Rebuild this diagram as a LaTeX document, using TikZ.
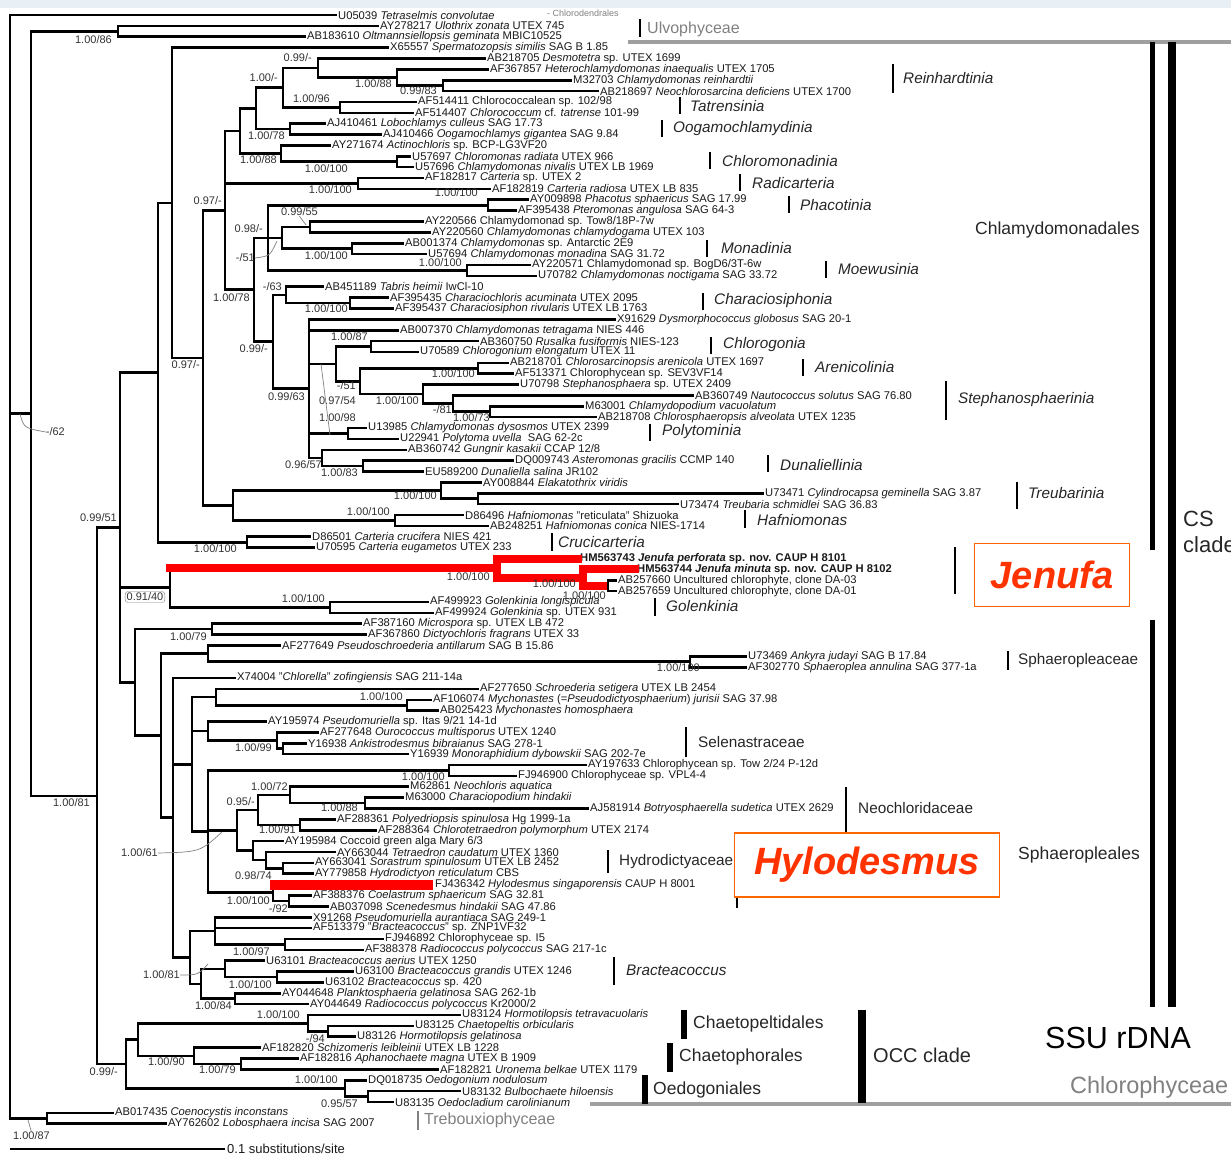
\documentclass[tikz,border=0pt]{standalone}
\usepackage{fontspec}
\setmainfont{Liberation Sans}
\usetikzlibrary{positioning}
\definecolor{cladegray}{RGB}{128,128,128}
\definecolor{jenred}{RGB}{255,0,0}
\definecolor{boxorange}{RGB}{255,102,0}
\definecolor{tagred}{RGB}{255,51,0}
\definecolor{suppgray}{RGB}{50,50,50}
\definecolor{topband}{RGB}{232,240,245}

% row -> y (px)
\newcommand\rw[1]{15+10.87*(#1)}
% tip: name, branch start x, row, label x, text
\newcommand\leaf[5]{\node[taxon] (#1) at ({#4-2},{\rw{#3}}) {#5};
  \draw[br] (#2,{\rw{#3}}) -- (#1.west);}
\newcommand\vbr[3]{\draw[br] (#1,{\rw{#2}}) -- (#1,{\rw{#3}});}
\newcommand\hbr[3]{\draw[br] (#1,{\rw{#3}}) -- (#2,{\rw{#3}});}
\newcounter{bsn}
\newcommand\bsv[3]{\stepcounter{bsn}\node[supp] (bs\thebsn) at (#1,#2) {#3};}

\begin{document}
\begin{tikzpicture}[x=1pt, y=-1pt,
  br/.style={line width=2.6pt, line cap=rect},
  redbr/.style={line width=8pt, draw=jenred, line cap=rect},
  taxon/.style={anchor=west, inner xsep=2pt, inner ysep=0pt, text=black!90, font=\fontsize{11.2}{12}\selectfont},
  supp/.style={anchor=east, inner sep=0pt, text=suppgray, font=\fontsize{11}{12}\selectfont},
  lead/.style={draw=gray, line width=0.7pt},
  bar/.style={line width=2.5pt},
  fambar/.style={line width=6pt},
  subclade/.style={anchor=west, inner sep=0pt, text=black!85, font=\fontsize{15.3}{16}\selectfont\itshape},
  family/.style={anchor=west, inner sep=0pt, text=black!85, font=\fontsize{15.3}{16}\selectfont},
  order/.style={anchor=west, inner sep=0pt, text=black!85, font=\fontsize{17.5}{18}\selectfont},
  grayclass/.style={anchor=west, inner sep=0pt, text=cladegray, font=\fontsize{16}{17}\selectfont},
  sep/.style={line width=4pt, draw=gray!75},
  tag/.style={draw=boxorange, line width=1.5pt, fill=white, inner sep=0pt, text=tagred, font=\fontsize{38}{40}\selectfont\bfseries\itshape},
]
\useasboundingbox (0,0) rectangle (1231,1156);
\fill[topband] (0,0) rectangle (1231,8);

% root and outgroups
\vbr{10}{0}{101.5}
\leaf{t0}{10}{0}{338}{U05039 \textit{Tetraselmis convolutae}}
\hbr{10}{31}{36.66}
\vbr{31}{1.5}{71.83}
\hbr{31}{118}{1.5}
\vbr{118}{1}{2}
\leaf{t1}{118}{1}{380}{AY278217 \textit{Ulothrix zonata} UTEX 745}
\leaf{t2}{118}{2}{307}{AB183610 \textit{Oltmannsiellopsis geminata} MBIC10525}

% Chlorophyceae
\hbr{31}{97}{71.83}
\vbr{97}{47.15}{96.5}
\hbr{97}{120}{47.15}
\vbr{120}{32.89}{61.4}

% Chlamydomonadales
\hbr{120}{158}{32.89}
\vbr{158}{17.28}{48.5}
\hbr{158}{172}{17.28}
\vbr{172}{3}{31.55}
\leaf{t3}{172}{3}{390}{X65557 \textit{Spermatozopsis similis} SAG B 1.85}
\hbr{172}{203}{31.55}
\vbr{203}{17.98}{45.125}
\hbr{203}{225}{17.98}
\vbr{225}{10.67}{25.28}
\hbr{225}{240}{10.67}
\vbr{240}{8.59}{12.75}
\hbr{240}{256}{8.59}
\vbr{256}{6.69}{10.5}
\hbr{256}{283}{6.69}
\vbr{283}{4.875}{8.5}
\hbr{283}{318}{4.875}
\vbr{318}{4}{5.75}
\leaf{t4}{318}{4}{487}{AB218705 \textit{Desmotetra} sp. UTEX 1699}
\hbr{318}{397}{5.75}
\vbr{397}{5}{6.5}
\leaf{t5}{397}{5}{490}{AF367857 \textit{Heterochlamydomonas inaequalis} UTEX 1705}
\hbr{397}{443}{6.5}
\vbr{443}{6}{7}
\leaf{t6}{443}{6}{573}{M32703 \textit{Chlamydomonas reinhardtii}}
\leaf{t7}{443}{7}{600}{AB218697 \textit{Neochlorosarcina deficiens} UTEX 1700}
\hbr{283}{340}{8.5}
\vbr{340}{8}{9}
\leaf{t8}{340}{8}{418}{AF514411 Chlorococcalean sp. 102/98}
\leaf{t9}{340}{9}{415}{AF514407 \textit{Chlorococcum} cf. \textit{tatrense} 101-99}
\hbr{256}{290}{10.5}
\vbr{290}{10}{11}
\leaf{t10}{290}{10}{327}{AJ410461 \textit{Lobochlamys culleus} SAG 17.73}
\leaf{t11}{290}{11}{383}{AJ410466 \textit{Oogamochlamys gigantea} SAG 9.84}
\hbr{240}{281}{12.75}
\vbr{281}{12}{13.5}
\leaf{t12}{281}{12}{332}{AY271674 \textit{Actinochloris} sp. BCP-LG3VF20}
\hbr{281}{397}{13.5}
\vbr{397}{13}{14}
\leaf{t13}{397}{13}{412}{U57697 \textit{Chloromonas radiata} UTEX 966}
\leaf{t14}{397}{14}{415}{U57696 \textit{Chlamydomonas nivalis} UTEX LB 1969}
\hbr{225}{358}{15.5}
\vbr{358}{15}{16}
\leaf{t15}{358}{15}{425}{AF182817 \textit{Carteria} sp. UTEX 2}
\leaf{t16}{358}{16}{492}{AF182819 \textit{Carteria radiosa} UTEX LB 835}
\hbr{225}{254}{25.28}
\vbr{254}{20.5}{30.06}
\hbr{254}{268}{20.5}
\vbr{268}{17.5}{23.5}
\hbr{268}{488}{17.5}
\vbr{488}{17}{18}
\leaf{t17}{488}{17}{530}{AY009898 \textit{Phacotus sphaericus} SAG 17.99}
\leaf{t18}{488}{18}{518}{AF395438 \textit{Pteromonas angulosa} SAG 64-3}
\hbr{268}{282}{20.5}
\vbr{282}{19.5}{21.5}
\hbr{282}{310}{19.5}
\vbr{310}{19}{20}
\leaf{t19}{310}{19}{425}{AY220566 Chlamydomonad sp. Tow8/18P-7w}
\leaf{t20}{310}{20}{432}{AY220560 \textit{Chlamydomonas chlamydogama} UTEX 103}
\hbr{282}{352}{21.5}
\vbr{352}{21}{22}
\leaf{t21}{352}{21}{405}{AB001374 \textit{Chlamydomonas} sp. Antarctic 2E9}
\leaf{t22}{352}{22}{428}{U57694 \textit{Chlamydomonas monadina} SAG 31.72}
\hbr{268}{467}{23.5}
\vbr{467}{23}{24}
\leaf{t23}{467}{23}{532}{AY220571 Chlamydomonad sp. BogD6/3T-6w}
\leaf{t24}{467}{24}{538}{U70782 \textit{Chlamydomonas noctigama} SAG 33.72}
\hbr{254}{273}{30.06}
\vbr{273}{25.75}{34.375}
\hbr{273}{286}{25.75}
\vbr{286}{25}{26.5}
\leaf{t25}{286}{25}{325}{AB451189 \textit{Tabris heimii} IwCl-10}
\hbr{286}{350}{26.5}
\vbr{350}{26}{27}
\leaf{t26}{350}{26}{390}{AF395435 \textit{Characiochloris acuminata} UTEX 2095}
\leaf{t27}{350}{27}{395}{AF395437 \textit{Characiosiphon rivularis} UTEX LB 1763}
\hbr{273}{309}{34.375}
\vbr{309}{28}{40.75}
\leaf{t28}{309}{28}{617}{X91629 \textit{Dysmorphococcus globosus} SAG 20-1}
\leaf{t29}{309}{29}{400}{AB007370 \textit{Chlamydomonas tetragama} NIES 446}
\hbr{309}{336}{32.09}
\vbr{336}{30.5}{33.69}
\hbr{336}{371}{30.5}
\vbr{371}{30}{31}
\leaf{t30}{371}{30}{480}{AB360750 \textit{Rusalka fusiformis} NIES-123}
\leaf{t31}{371}{31}{420}{U70589 \textit{Chlorogonium elongatum} UTEX 11}
\hbr{336}{360}{33.69}
\vbr{360}{32.5}{34.875}
\hbr{360}{478}{32.5}
\vbr{478}{32}{33}
\leaf{t32}{478}{32}{510}{AB218701 \textit{Chlorosarcinopsis arenicola} UTEX 1697}
\leaf{t33}{478}{33}{515}{AF513371 Chlorophycean sp. SEV3VF14}
\hbr{360}{423}{34.875}
\vbr{423}{34}{35.75}
\leaf{t34}{423}{34}{520}{U70798 \textit{Stephanosphaera} sp. UTEX 2409}
\hbr{423}{453}{35.75}
\vbr{453}{35}{36.5}
\leaf{t35}{453}{35}{695}{AB360749 \textit{Nautococcus solutus} SAG 76.80}
\hbr{453}{490}{36.5}
\vbr{490}{36}{37}
\leaf{t36}{490}{36}{585}{M63001 \textit{Chlamydopodium vacuolatum}}
\leaf{t37}{490}{37}{598}{AB218708 \textit{Chlorosphaeropsis alveolata} UTEX 1235}
\hbr{309}{348}{38.5}
\vbr{348}{38}{39}
\leaf{t38}{348}{38}{368}{U13985 \textit{Chlamydomonas dysosmos} UTEX 2399}
\leaf{t39}{348}{39}{400}{U22941 \textit{Polytoma uvella}\ \ SAG 62-2c}
\hbr{309}{322}{40.75}
\vbr{322}{40}{41.5}
\leaf{t40}{322}{40}{408}{AB360742 \textit{Gungnir kasakii} CCAP 12/8}
\hbr{322}{363}{41.5}
\vbr{363}{41}{42}
\leaf{t41}{363}{41}{515}{DQ009743 \textit{Asteromonas gracilis} CCMP 140}
\leaf{t42}{363}{42}{425}{EU589200 \textit{Dunaliella salina} JR102}
\hbr{203}{233}{45.125}
\vbr{233}{43.75}{46.5}
\hbr{233}{441}{43.75}
\vbr{441}{43}{44.5}
\leaf{t43}{441}{43}{483}{AY008844 \textit{Elakatothrix viridis}}
\hbr{441}{478}{44.5}
\vbr{478}{44}{45}
\leaf{t44}{478}{44}{765}{U73471 \textit{Cylindrocapsa geminella} SAG 3.87}
\leaf{t45}{478}{45}{680}{U73474 \textit{Treubaria schmidlei} SAG 36.83}
\hbr{233}{395}{46.5}
\vbr{395}{46}{47}
\leaf{t46}{395}{46}{465}{D86496 \textit{Hafniomonas} "reticulata" Shizuoka}
\leaf{t47}{395}{47}{490}{AB248251 \textit{Hafniomonas conica} NIES-1714}
\hbr{158}{247}{48.5}
\vbr{247}{48}{49}
\leaf{t48}{247}{48}{312}{D86501 \textit{Carteria crucifera} NIES 421}
\leaf{t49}{247}{49}{316}{U70595 \textit{Carteria eugametos} UTEX 233}

% Jenufa and Golenkinia
\hbr{120}{170}{52.69}
\vbr{170}{50.875}{54.5}
\node[taxon, font=\fontsize{11.2}{12}\selectfont\bfseries] (t50) at (578,{\rw{50}}) {HM563743 \textit{Jenufa perforata} sp. nov. CAUP H 8101};
\node[taxon, font=\fontsize{11.2}{12}\selectfont\bfseries] (t51) at (635,{\rw{51}}) {HM563744 \textit{Jenufa minuta} sp. nov. CAUP H 8102};
\draw[redbr] (170,{\rw{50.875}}) -- (497,{\rw{50.875}});
\draw[redbr] (497,{\rw{50}}) -- (497,{\rw{51.75}});
\draw[redbr] (497,{\rw{50}}) -- (t50.west);
\draw[redbr] (497,{\rw{51.75}}) -- (583,{\rw{51.75}});
\draw[redbr] (583,{\rw{51}}) -- (583,{\rw{52.5}});
\draw[redbr] (583,{\rw{51}}) -- (t51.west);
\draw[redbr] (583,{\rw{52.5}}) -- (604,{\rw{52.5}});
\vbr{608}{52}{53}
\leaf{t52}{608}{52}{618}{AB257660 Uncultured chlorophyte, clone DA-03}
\leaf{t53}{608}{53}{618}{AB257659 Uncultured chlorophyte, clone DA-01}
\hbr{170}{330}{54.5}
\vbr{330}{54}{55}
\leaf{t54}{330}{54}{430}{AF499923 \textit{Golenkinia longispicula}}
\leaf{t55}{330}{55}{435}{AF499924 \textit{Golenkinia} sp. UTEX 931}

% Sphaeropleales
\hbr{120}{135}{61.4}
\vbr{135}{56.5}{66.3}
\hbr{135}{212}{56.5}
\vbr{212}{56}{57}
\leaf{t56}{212}{56}{363}{AF387160 \textit{Microspora} sp. UTEX LB 472}
\leaf{t57}{212}{57}{368}{AF367860 \textit{Dictyochloris fragrans} UTEX 33}
\hbr{135}{161}{66.3}
\vbr{161}{58.75}{73.84}
\hbr{161}{208}{58.75}
\vbr{208}{58}{59.5}
\leaf{t58}{208}{58}{282}{AF277649 \textit{Pseudoschroederia antillarum} SAG B 15.86}
\hbr{208}{690}{59.5}
\vbr{690}{59}{60}
\leaf{t59}{690}{59}{748}{U73469 \textit{Ankyra judayi} SAG B 17.84}
\leaf{t60}{690}{60}{748}{AF302770 \textit{Sphaeroplea annulina} SAG 377-1a}
\hbr{161}{173}{73.84}
\vbr{173}{61}{86.69}
\leaf{t61}{173}{61}{237}{X74004 "\textit{Chlorella}" \textit{zofingiensis} SAG 211-14a}
\hbr{173}{192}{68.94}
\vbr{192}{62.75}{75.125}
\hbr{192}{216}{62.75}
\vbr{216}{62}{63.5}
\leaf{t62}{216}{62}{480}{AF277650 \textit{Schroederia setigera} UTEX LB 2454}
\hbr{216}{407}{63.5}
\vbr{407}{63}{64}
\leaf{t63}{407}{63}{433}{AF106074 \textit{Mychonastes} (=\textit{Pseudodictyosphaerium}) \textit{jurisii} SAG 37.98}
\leaf{t64}{407}{64}{440}{AB025423 \textit{Mychonastes homosphaera}}
\hbr{192}{208}{65.875}
\vbr{208}{65}{66.75}
\leaf{t65}{208}{65}{268}{AY195974 \textit{Pseudomuriella} sp. Itas 9/21 14-1d}
\hbr{208}{277}{66.75}
\vbr{277}{66}{67.5}
\leaf{t66}{277}{66}{320}{AF277648 \textit{Ourococcus multisporus} UTEX 1240}
\hbr{277}{283}{67.5}
\vbr{283}{67}{68}
\leaf{t67}{283}{67}{308}{Y16938 \textit{Ankistrodesmus bibraianus} SAG 278-1}
\leaf{t68}{283}{68}{410}{Y16939 \textit{Monoraphidium dybowskii} SAG 202-7e}
\hbr{192}{208}{75.125}
\vbr{208}{69.5}{80.75}
\hbr{208}{449}{69.5}
\vbr{449}{69}{70}
\leaf{t69}{449}{69}{588}{AY197633 Chlorophycean sp. Tow 2/24 P-12d}
\leaf{t70}{449}{70}{518}{FJ946900 Chlorophyceae sp. VPL4-4}
\hbr{208}{237}{75}
\vbr{237}{73.125}{76.875}
\hbr{237}{258}{73.125}
\vbr{258}{71.75}{74.5}
\hbr{258}{290}{71.75}
\vbr{290}{71}{72.5}
\leaf{t71}{290}{71}{410}{M62861 \textit{Neochloris aquatica}}
\hbr{290}{365}{72.5}
\vbr{365}{72}{73}
\leaf{t72}{365}{72}{405}{M63000 \textit{Characiopodium hindakii}}
\leaf{t73}{365}{73}{590}{AJ581914 \textit{Botryosphaerella sudetica} UTEX 2629}
\hbr{258}{300}{74.5}
\vbr{300}{74}{75}
\leaf{t74}{300}{74}{337}{AF288361 \textit{Polyedriopsis spinulosa} Hg 1999-1a}
\leaf{t75}{300}{75}{378}{AF288364 \textit{Chlorotetraedron polymorphum} UTEX 2174}
\hbr{237}{253}{76.875}
\vbr{253}{76}{77.75}
\leaf{t76}{253}{76}{285}{AY195984 Coccoid green alga Mary 6/3}
\hbr{253}{266}{77.75}
\vbr{266}{77}{78.5}
\leaf{t77}{266}{77}{337}{AY663044 \textit{Tetraedron caudatum} UTEX 1360}
\hbr{266}{283}{78.5}
\vbr{283}{78}{79}
\leaf{t78}{283}{78}{315}{AY663041 \textit{Sorastrum spinulosum} UTEX LB 2452}
\leaf{t79}{283}{79}{315}{AY779858 \textit{Hydrodictyon reticulatum} CBS}
\hbr{208}{273}{80.75}
\vbr{273}{80}{81.5}
\node[taxon] (t80) at (433,{\rw{80}}) {FJ436342 \textit{Hylodesmus singaporensis} CAUP H 8001};
\draw[redbr, line width=10pt, line cap=butt] (270,{\rw{80}}) -- (t80.west);
\hbr{273}{289}{81.5}
\vbr{289}{81}{82}
\leaf{t81}{289}{81}{313}{AF388376 \textit{Coelastrum sphaericum} SAG 32.81}
\leaf{t82}{289}{82}{330}{AB037098 \textit{Scenedesmus hindakii} SAG 47.86}
\hbr{173}{190}{86.69}
\vbr{190}{84.25}{89.125}
\hbr{190}{215}{84.25}
\vbr{215}{83}{85.5}
\leaf{t83}{215}{83}{313}{X91268 \textit{Pseudomuriella aurantiaca} SAG 249-1}
\leaf{t84}{215}{84}{313}{AF513379 "\textit{Bracteacoccus}" sp. ZNP1VF32}
\hbr{215}{285}{85.5}
\vbr{285}{85}{86}
\leaf{t85}{285}{85}{385}{FJ946892 Chlorophyceae sp. I5}
\leaf{t86}{285}{86}{365}{AF388378 \textit{Radiococcus polycoccus} SAG 217-1c}
\hbr{190}{201}{89.125}
\vbr{201}{87.75}{90.5}
\hbr{201}{225}{87.75}
\vbr{225}{87}{88.5}
\leaf{t87}{225}{87}{266}{U63101 \textit{Bracteacoccus aerius} UTEX 1250}
\hbr{225}{277}{88.5}
\vbr{277}{88}{89}
\leaf{t88}{277}{88}{355}{U63100 \textit{Bracteacoccus grandis} UTEX 1246}
\leaf{t89}{277}{89}{325}{U63102 \textit{Bracteacoccus} sp. 420}
\hbr{201}{235}{90.5}
\vbr{235}{90}{91}
\leaf{t90}{235}{90}{282}{AY044648 \textit{Planktosphaeria gelatinosa} SAG 262-1b}
\leaf{t91}{235}{91}{310}{AY044649 \textit{Radiococcus polycoccus} Kr2000/2}

% OCC clade
\hbr{97}{126}{96.5}
\vbr{126}{94.25}{98.75}
\hbr{126}{138}{94.25}
\vbr{138}{92.75}{95.75}
\hbr{138}{308}{92.75}
\vbr{308}{92}{93.5}
\leaf{t92}{308}{92}{462}{U83124 \textit{Hormotilopsis tetravacuolaris}}
\hbr{308}{328}{93.5}
\vbr{328}{93}{94}
\leaf{t93}{328}{93}{415}{U83125 \textit{Chaetopeltis orbicularis}}
\leaf{t94}{328}{94}{357}{U83126 \textit{Hormotilopsis gelatinosa}}
\hbr{138}{194}{95.75}
\vbr{194}{95}{96.5}
\leaf{t95}{194}{95}{262}{AF182820 \textit{Schizomeris leibleinii} UTEX LB 1228}
\hbr{194}{241}{96.5}
\vbr{241}{96}{97}
\leaf{t96}{241}{96}{300}{AF182816 \textit{Aphanochaete magna} UTEX B 1909}
\leaf{t97}{241}{97}{440}{AF182821 \textit{Uronema belkae} UTEX 1179}
\hbr{126}{345}{98.75}
\vbr{345}{98}{99.5}
\leaf{t98}{345}{98}{368}{DQ018735 \textit{Oedogonium nodulosum}}
\hbr{345}{368}{99.5}
\vbr{368}{99}{100}
\leaf{t99}{368}{99}{462}{U83132 \textit{Bulbochaete hiloensis}}
\leaf{t100}{368}{100}{395}{U83135 \textit{Oedocladium carolinianum}}

% Trebouxiophyceae
\hbr{10}{47}{101.5}
\vbr{47}{101}{102}
\leaf{t101}{47}{101}{115}{AB017435 \textit{Coenocystis inconstans}}
\leaf{t102}{47}{102}{168}{AY762602 \textit{Lobosphaera incisa} SAG 2007}

% support values
\bsv{112}{40}{1.00/86}
\bsv{65}{432}{-/62}
\bsv{90}{803}{1.00/81}
\bsv{117}{518}{0.99/51}
\bsv{118}{1072}{0.99/-}
\bsv{312}{58}{0.99/-}
\bsv{278}{78}{1.00/-}
\bsv{392}{84}{1.00/88}
\bsv{437}{91}{0.99/83}
\bsv{330}{99}{1.00/96}
\bsv{285}{136}{1.00/78}
\bsv{277}{160}{1.00/88}
\bsv{348}{169}{1.00/100}
\bsv{352}{190}{1.00/100}
\bsv{222}{201}{0.97/-}
\bsv{478}{193}{1.00/100}
\bsv{318}{212}{0.99/55}
\bsv{263}{229}{0.98/-}
\bsv{255}{258}{-/51}
\bsv{348}{256}{1.00/100}
\bsv{462}{263}{1.00/100}
\bsv{282}{287}{-/63}
\bsv{250}{298}{1.00/78}
\bsv{348}{309}{1.00/100}
\bsv{368}{337}{1.00/87}
\bsv{268}{349}{0.99/-}
\bsv{200}{365}{0.97/-}
\bsv{475}{374}{1.00/100}
\bsv{356}{386}{-/51}
\bsv{305}{397}{0.99/63}
\bsv{356}{401}{0.97/54}
\bsv{419}{401}{1.00/100}
\bsv{452}{410}{-/81}
\bsv{490}{418}{1.00/73}
\bsv{356}{418}{1.00/98}
\bsv{322}{465}{0.96/57}
\bsv{358}{473}{1.00/83}
\bsv{437}{496}{1.00/100}
\bsv{390}{512}{1.00/100}
\bsv{237}{549}{1.00/100}
\bsv{490}{577}{1.00/100}
\bsv{576}{584}{1.00/100}
\bsv{606}{596}{1.00/100}
\node[supp, anchor=center, draw=gray, rounded corners=3pt, inner sep=1.5pt] (bsbox) at (145,597) {0.91/40};
\bsv{325}{599}{1.00/100}
\bsv{207}{637}{1.00/79}
\bsv{700}{668}{1.00/100}
\bsv{403}{697}{1.00/100}
\bsv{272}{748}{1.00/99}
\bsv{445}{777}{1.00/100}
\bsv{288}{787}{1.00/72}
\bsv{255}{802}{0.95/-}
\bsv{358}{808}{1.00/88}
\bsv{296}{830}{1.00/91}
\bsv{158}{853}{1.00/61}
\bsv{272}{876}{0.98/74}
\bsv{270}{901}{1.00/100}
\bsv{288}{909}{-/92}
\bsv{270}{952}{1.00/97}
\bsv{180}{975}{1.00/81}
\bsv{272}{985}{1.00/100}
\bsv{232}{1006}{1.00/84}
\bsv{300}{1015}{1.00/100}
\bsv{325}{1039}{-/94}
\bsv{185}{1062}{1.00/90}
\bsv{236}{1070}{1.00/79}
\bsv{338}{1080}{1.00/100}
\bsv{358}{1104}{0.95/57}
\bsv{50}{1136}{1.00/87}

% leader lines
\draw[lead] (20,414) .. controls (24,428) .. (bs2.west);
\draw[lead] (bs17.south) -- (306,225);
\draw[lead] (bs19.east) .. controls (270,256) .. (277,241);
\draw[lead] (321,364) -- (330,435);
\draw[lead] (bs54.east) .. controls (200,852) .. (222,832);
\draw[lead] (bs59.east) .. controls (198,975) .. (208,964);
\draw[lead] (bs68.north) -- (28,1120);

% scale bar
\node[taxon, font=\fontsize{13}{14}\selectfont] (scl) at (225,1149) {0.1 substitutions/site};
\coordinate (scl0) at (10,1149);
\draw[line width=2pt] (scl0) -- (scl.west);

% class separators
\draw[sep] (628,42) -- (1231,42);
\draw[sep] (590,1104) -- (1231,1104);
\node[anchor=west, inner sep=0pt, text=cladegray, font=\fontsize{9}{10}\selectfont] (chlorod) at (547,13) {- Chlorodendrales};
\draw[line width=2pt] (640,19) -- (640,37);
\node[grayclass] (ulvo) at (647,29) {Ulvophyceae};
\draw[line width=2pt, draw=cladegray] (418,1111) -- (418,1130);
\node[grayclass] (treb) at (424,1120) {Trebouxiophyceae};
\node[grayclass, font=\fontsize{23.5}{24}\selectfont] (chlph) at (1070,1087) {Chlorophyceae};

% subclades
\foreach \bx/\ya/\yb/\tx/\ty/\lab in {893/64/93/903/78/Reinhardtinia, 680/97/114/690/106/Tatrensinia,
  662/120/137/673/129/Oogamochlamydinia, 710/152/169/722/161/Chloromonadinia,
  740/174/191/752/183/Radicarteria, 789/196/213/800/205/Phacotinia,
  707/240/257/721/248/Monadinia, 826/261/278/838/269/Moewusinia,
  703/293/310/714/301/Characiosiphonia, 711/337/354/723/345/Chlorogonia,
  803/359/376/815/367/Arenicolinia, 946/381/420/958/400/Stephanosphaerinia,
  650/424/441/662/432/Polytominia, 768/455/472/780/465/Dunaliellinia,
  1017/482/509/1028/493/Treubarinia, 745/510/528/757/520/Hafniomonas,
  552/533/551/558/542/Crucicarteria, 655/598/616/666/606/Golenkinia,
  614/957/985/626/970/Bracteacoccus}{
  \draw[bar] (\bx,\ya) -- (\bx,\yb);
  \node[subclade] (sc-\lab) at (\tx,\ty) {\lab};
}
\foreach \bx/\ya/\yb/\tx/\ty/\lab in {1008/651/670/1018/661/Sphaeropleaceae,
  686/727/757/698/742/Selenastraceae, 846/787/833/858/808/Neochloridaceae,
  608/850/873/619/862/Hydrodictyaceae}{
  \draw[bar] (\bx,\ya) -- (\bx,\yb);
  \node[family] (fm-\lab) at (\tx,\ty) {\lab};
}
\draw[bar] (955,547) -- (955,594);
\draw[bar] (737,877) -- (737,908);
\foreach \bx/\ya/\yb/\tx/\ty/\lab in {684/1010/1039/693/1024/Chaetopeltidales,
  670/1043/1072/679/1057/Chaetophorales, 645/1075/1104/653/1090/Oedogoniales}{
  \draw[fambar] (\bx,\ya) -- (\bx,\yb);
  \node[order] (od-\lab) at (\tx,\ty) {\lab};
}
\draw[line width=8pt] (862,1010) -- (862,1103);
\node[order, font=\fontsize{20}{21}\selectfont] (occ) at (873,1055) {OCC clade};

% orders and CS clade
\node[order] (chlamy) at (975,230) {Chlamydomonadales};
\node[order] (sphae) at (1018,855) {Sphaeropleales};
\draw[line width=5pt] (1152,42) -- (1152,550);
\draw[line width=5pt] (1152,620) -- (1152,1007);
\draw[line width=8pt] (1172,42) -- (1172,1007);
\node[order, font=\fontsize{22}{23}\selectfont] (cs) at (1183,519) {CS};
\node[order, font=\fontsize{22}{23}\selectfont] (csclade) at (1183,545) {clade};
\node[anchor=west, inner sep=0pt, font=\fontsize{30.5}{31}\selectfont] (ssu) at (1045,1038) {SSU rDNA};

% genus tags
\node[tag, minimum width=155pt, minimum height=63pt] (jenufa) at (1052,575) {Jenufa};
\node[tag, minimum width=265pt, minimum height=64pt] (hylo) at (867,865) {Hylodesmus};
\end{tikzpicture}
\end{document}
